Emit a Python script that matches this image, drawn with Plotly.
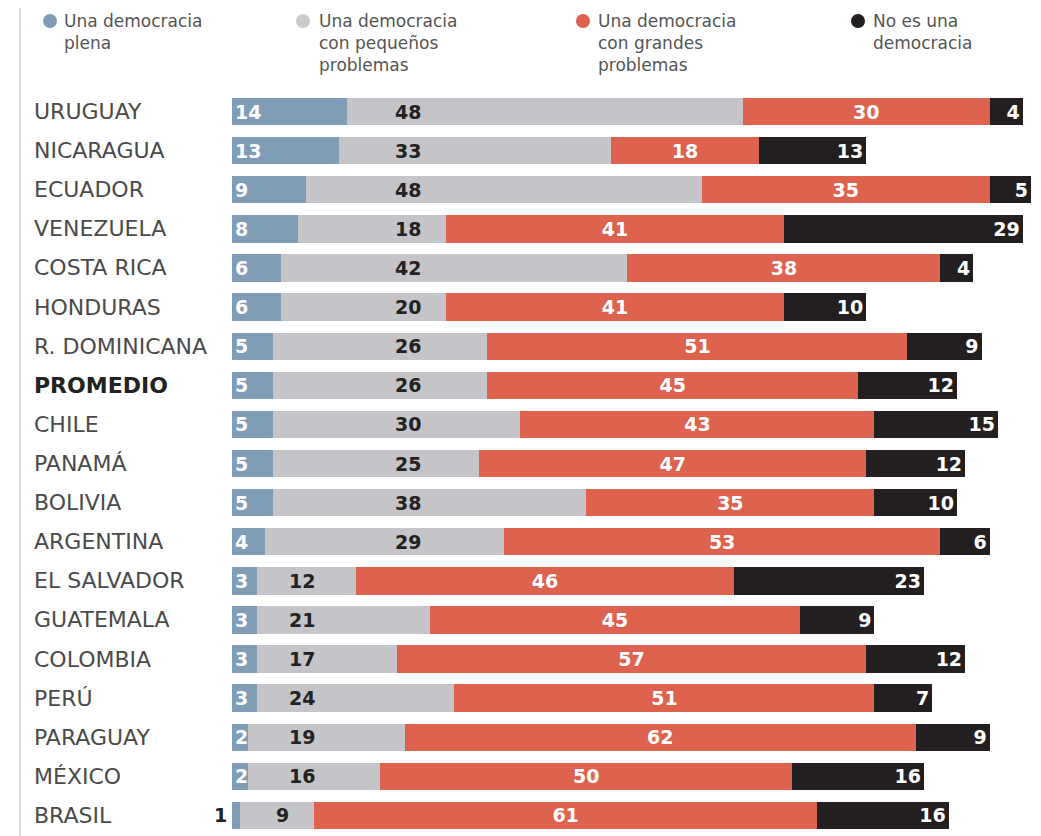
import plotly.graph_objects as go

# Percentages per country (top to bottom as in the chart)
paises = ['URUGUAY', 'NICARAGUA', 'ECUADOR', 'VENEZUELA', 'COSTA RICA', 'HONDURAS',
          'R. DOMINICANA', 'PROMEDIO', 'CHILE', 'PANAMÁ', 'BOLIVIA', 'ARGENTINA',
          'EL SALVADOR', 'GUATEMALA', 'COLOMBIA', 'PERÚ', 'PARAGUAY', 'MÉXICO', 'BRASIL']
plena = [14, 13, 9, 8, 6, 6, 5, 5, 5, 5, 5, 4, 3, 3, 3, 3, 2, 2, 1]
pequenos = [48, 33, 48, 18, 42, 20, 26, 26, 30, 25, 38, 29, 12, 21, 17, 24, 19, 16, 9]
grandes = [30, 18, 35, 41, 38, 41, 51, 45, 43, 47, 35, 53, 46, 45, 57, 51, 62, 50, 61]
no_demo = [4, 13, 5, 29, 4, 10, 9, 12, 15, 12, 10, 6, 23, 9, 12, 7, 9, 16, 16]

leyenda = [
    ['Una democracia', 'plena'],
    ['Una democracia', 'con pequeños', 'problemas'],
    ['Una democracia', 'con grandes', 'problemas'],
    ['No es una', 'democracia'],
]

AZUL = '#7f9db6'
GRIS = '#c5c5c9'
ROJO = '#dd634f'
NEGRO = '#231f20'

# the page body adds an 8px margin, so the figure is drawn 8px in
OFF = 8
W_FIG, H_FIG = 1041 - OFF, 836 - OFF
L, T = 232 - OFF, 92 - OFF
XMAX = 97
W, H = 799, 743


def px(p):
    # screen pixel x -> paper coordinate
    return (p - OFF - L) / W


def py(p):
    # screen pixel y -> paper coordinate
    return 1 - (p - OFF - T) / H


NUM_FONT = dict(family='DejaVu Sans', size=19, color='white')


def b(v):
    return f'<b>{v}</b>'


fig = go.Figure()

fig.add_trace(go.Bar(
    y=paises, x=plena, orientation='h', marker=dict(color=AZUL, line_width=0),
    text=[b(v) if v > 1 else '' for v in plena], textposition='inside', textangle=0,
    insidetextanchor='start', textfont=NUM_FONT, name=leyenda[0][0],
))
fig.add_trace(go.Bar(
    y=paises, x=pequenos, orientation='h', marker=dict(color=GRIS, line_width=0),
    name=leyenda[1][0],
))
fig.add_trace(go.Bar(
    y=paises, x=grandes, orientation='h', marker=dict(color=ROJO, line_width=0),
    text=[b(v) for v in grandes], textposition='inside', textangle=0,
    insidetextanchor='middle', textfont=NUM_FONT, name=leyenda[2][0],
))
fig.add_trace(go.Bar(
    y=paises, x=no_demo, orientation='h', marker=dict(color=NEGRO, line_width=0),
    text=[b(v) for v in no_demo], textposition='inside', textangle=0,
    insidetextanchor='end', textfont=NUM_FONT, name=leyenda[3][0],
))

annotations = []
shapes = []

# country names
for p in paises:
    bold = p == 'PROMEDIO'
    annotations.append(dict(
        x=px(32), xref='paper', y=p, yref='y', xanchor='left', yanchor='middle',
        text=b(p) if bold else p, showarrow=False,
        font=dict(family='DejaVu Sans', size=22, color='#222' if bold else '#4a4a4a'),
    ))

# labels of the grey segment, set in a column as in the original
for p, bl, g in zip(paises, plena, pequenos):
    col = 23.2 if bl >= 4 else 10.3
    annotations.append(dict(
        x=min(col, bl + g - 2.8), xref='x', y=p, yref='y', xanchor='right',
        yanchor='middle', text=b(g), showarrow=False,
        font=dict(family='DejaVu Sans', size=19, color='#222'),
    ))

# very small blue values go outside, left of the bar
for p, bl in zip(paises, plena):
    if bl <= 1:
        annotations.append(dict(
            x=0, xref='x', y=p, yref='y', xanchor='right', yanchor='middle',
            xshift=-3, text=b(bl), showarrow=False,
            font=dict(family='DejaVu Sans', size=19, color='#222'),
        ))

# legend built by hand: dot + stacked lines
leg_x = [(50, 62), (303, 317), (583, 596), (858, 871)]
leg_col = [AZUL, '#cbcbcb', ROJO, NEGRO]
for (dx, tx), c, lines in zip(leg_x, leg_col, leyenda):
    shapes.append(dict(
        type='circle', xref='paper', yref='paper', xsizemode='pixel', ysizemode='pixel',
        xanchor=px(dx), yanchor=py(21), x0=-7, x1=7, y0=-7, y1=7,
        fillcolor=c, line_width=0,
    ))
    annotations.append(dict(
        x=px(tx), xref='paper', y=py(9), yref='paper',
        xanchor='left', yanchor='top', align='left', text='<br>'.join(lines),
        showarrow=False, font=dict(family='DejaVu Sans', size=17, color='#555'),
    ))

# thin grey rule on the left edge
shapes.append(dict(
    type='line', xref='paper', yref='paper', x0=px(20), x1=px(20),
    y0=py(836), y1=py(0), line=dict(color='#dedede', width=2),
))

fig.update_layout(
    width=W_FIG, height=H_FIG,
    barmode='stack', bargap=0.3,
    showlegend=False,
    plot_bgcolor='white', paper_bgcolor='white',
    margin=dict(l=L, r=W_FIG - L - W, t=T, b=H_FIG - T - H),
    uniformtext=dict(minsize=19, mode='show'),
    annotations=annotations, shapes=shapes,
    hovermode=False,
)
fig.update_xaxes(range=[0, XMAX], visible=False, fixedrange=True)
fig.update_yaxes(range=[len(paises) - 0.5, -0.5], visible=False, fixedrange=True)

fig.write_html('out.html')
